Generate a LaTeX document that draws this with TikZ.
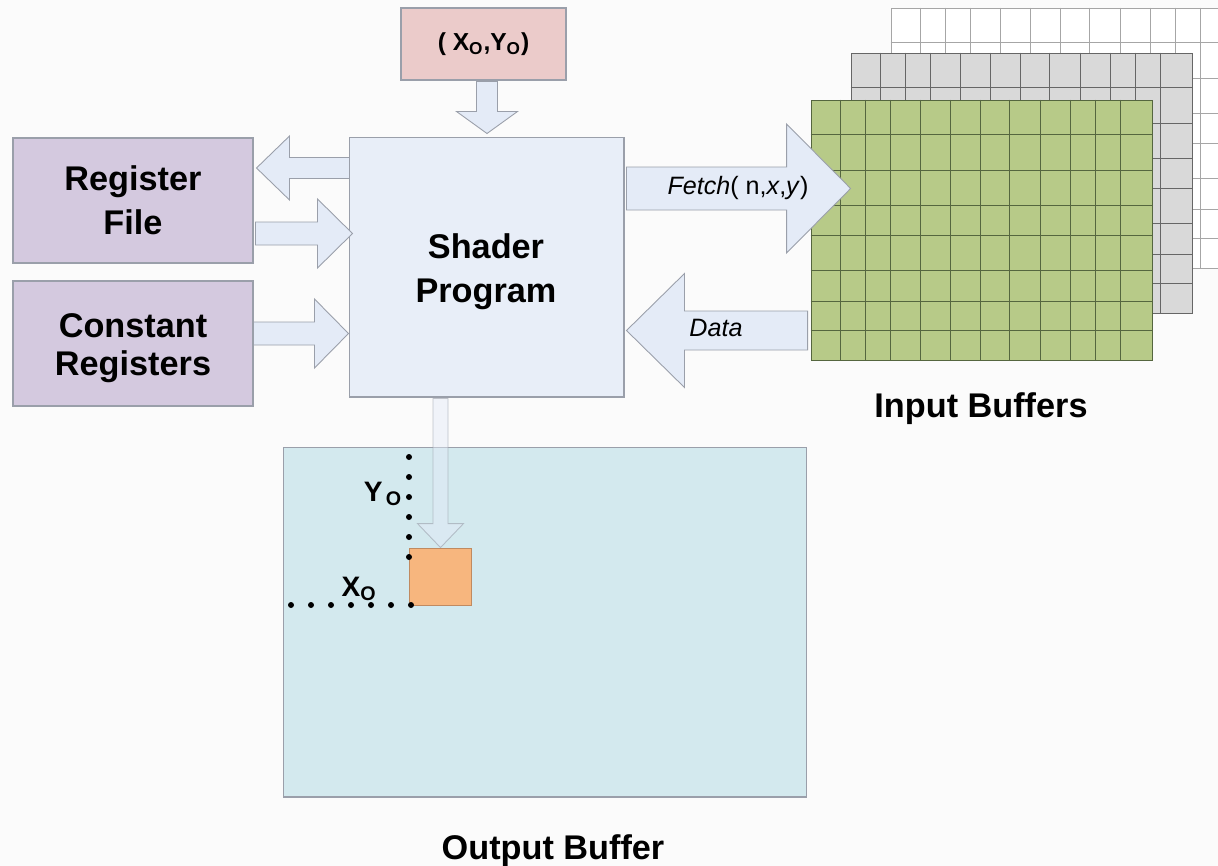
\documentclass[tikz,border=0pt]{standalone}
\usepackage{fontspec}
\setmainfont{Liberation Sans}
\usetikzlibrary{calc}
\definecolor{bgpaper}{HTML}{FBFBFB}
\definecolor{posfill}{HTML}{EBCBCA}
\definecolor{regfill}{HTML}{D4C9DF}
\definecolor{shadfill}{HTML}{E8EEF8}
\definecolor{arrfill}{HTML}{E4EBF7}
\definecolor{outfill}{HTML}{D3E9EE}
\definecolor{pixfill}{HTML}{F7B67E}
\definecolor{pixline}{HTML}{C08A60}
\definecolor{grnfill}{HTML}{B7CA88}
\definecolor{grnline}{HTML}{55663F}
\definecolor{gryfill}{HTML}{D9D9D9}
\definecolor{boxline}{HTML}{9A9FAA}

% block arrow: [style] {from} {to} {shaft half} {head half} {head length}
\newcommand{\fatarrow}[6][]{%
  \coordinate (fa-h) at ($(#3)!#6!(#2)$);
  \draw[blockarrow,#1] ($(#2)!#4!90:(#3)$) -- ($(fa-h)!#4!-90:(#2)$)
    -- ($(fa-h)!#5!-90:(#2)$) -- (#3) -- ($(fa-h)!#5!90:(#2)$)
    -- ($(fa-h)!#4!90:(#2)$) -- ($(#2)!#4!-90:(#3)$) -- cycle;
}
% cell lines of one buffer
\newcommand{\bufgrid}[1]{%
  \foreach \gx in {30,55,80,110,140,170,199,230,260,285,310}
    \draw ($(#1.north west)+(\gx,0)$) -- ($(#1.south west)+(\gx,0)$);
  \foreach \gy in {35,71,106,136,171,202,231}
    \draw ($(#1.north west)+(0,\gy)$) -- ($(#1.north east)+(0,\gy)$);
}

\begin{document}
\begin{tikzpicture}[x=0.02cm,y=-0.02cm,
  box/.style={draw=boxline, line width=0.6pt, inner sep=0pt, align=center,
    font=\fontsize{19.5}{25}\selectfont\bfseries},
  buf/.style={draw=#1, line width=0.5pt, inner sep=0pt,
    minimum width=6.82cm, minimum height=5.2cm},
  blockarrow/.style={draw=boxline, fill=arrfill, line width=0.5pt},
  caption/.style={font=\fontsize{19.5}{25}\selectfont\bfseries, align=center},
  argtext/.style={font=\fontsize{14.3}{17}\selectfont},
  dotmark/.style={fill=black}]
\fill[bgpaper] (0,0) rectangle (1218,866);
\useasboundingbox (0,0) rectangle (1218,866);

% input buffers
\begin{scope}
\clip (0,0) rectangle (1218,866);
\node[buf=gray!70, fill=white] (inwhite) at (1061.5,138) {};
\begin{scope}[gray!70, line width=0.5pt]
\bufgrid{inwhite}
\end{scope}
\end{scope}
\node[buf=gray!80!black, fill=gryfill] (ingray) at (1021.5,183) {};
\begin{scope}[gray!80!black, line width=0.5pt]
\bufgrid{ingray}
\end{scope}
\node[buf=grnline, fill=grnfill] (ingreen) at (981.5,230) {};
\begin{scope}[grnline, line width=0.5pt]
\bufgrid{ingreen}
\end{scope}
\node[caption] (inlabel) at (981,409) {Input Buffers};

% boxes
\node[box, fill=posfill, minimum width=3.3cm, minimum height=1.44cm,
  font=\fontsize{14}{17}\selectfont\bfseries] (pos) at (483.5,44)
  {( X\textsubscript{O},Y\textsubscript{O})};
\node[box, fill=shadfill, minimum width=5.5cm, minimum height=5.2cm] (shader)
  at (486.5,267) {};
\node[caption] (shadertext) at (486,272) {Shader\\Program};
\node[box, fill=regfill, minimum width=4.8cm, minimum height=2.5cm] (regfile)
  at (133,200.5) {Register\\File};
\node[box, fill=regfill, minimum width=4.8cm, minimum height=2.5cm] (constreg)
  at (133,343.5) {};
\node[caption, font=\fontsize{19.5}{21.5}\selectfont\bfseries] (consttext)
  at (133,348) {Constant\\Registers};

% output buffer
\node[box, fill=outfill, minimum width=10.48cm, minimum height=7cm] (outbuf)
  at (545,622) {};
\node[caption] (outlabel) at (553,851) {Output Buffer};
\node[draw=pixline, fill=pixfill, line width=0.5pt, inner sep=0pt,
  minimum width=1.24cm, minimum height=1.14cm] (pixel) at (440,576.5) {};

% arrows
\fatarrow{$(pos.south)+(3.5,1)$}{$(shader.north)+(0.5,-3)$}{0.21cm}{0.61cm}{0.44cm}
\fatarrow{$(shader.west)+(1,-99)$}{$(regfile.east)+(3,-32.5)$}{0.21cm}{0.64cm}{0.66cm}
\fatarrow{$(regfile.east)+(2,33)$}{$(shader.west)+(4,-33.5)$}{0.23cm}{0.69cm}{0.7cm}
\fatarrow{$(constreg.east)+(0,-10)$}{$(shader.west)+(0,66.5)$}{0.23cm}{0.69cm}{0.68cm}
\fatarrow{$(shader.east)+(2,-78.5)$}{$(ingreen.west)+(40,-41.5)$}{0.43cm}{1.29cm}{1.28cm}
\fatarrow{$(ingreen.west)+(-3,100.5)$}{$(shader.east)+(2,63.5)$}{0.39cm}{1.14cm}{1.16cm}
\fatarrow[fill opacity=0.45, draw opacity=0.6]{$(shader.south)+(-46,1)$}{$(pixel.north)+(0.5,0)$}{0.15cm}{0.46cm}{0.48cm}

\node[argtext] (fetchtext) at (738,188) {\textit{Fetch}( n,\textit{x},\textit{y})};
\node[argtext] (datatext) at (716,328) {\textit{Data}};

% pixel offsets
\foreach \y in {457,477,...,557}
  \fill[dotmark] (409,\y) circle (3);
\foreach \x in {291,311,...,411}
  \fill[dotmark] (\x,605) circle (3);
\node[font=\fontsize{16}{18}\selectfont\bfseries] (ylabel) at (383,494)
  {Y\textsubscript{\,O}};
\node[font=\fontsize{16}{18}\selectfont\bfseries] (xlabel) at (359,589)
  {X\textsubscript{O}};
\end{tikzpicture}
\end{document}
